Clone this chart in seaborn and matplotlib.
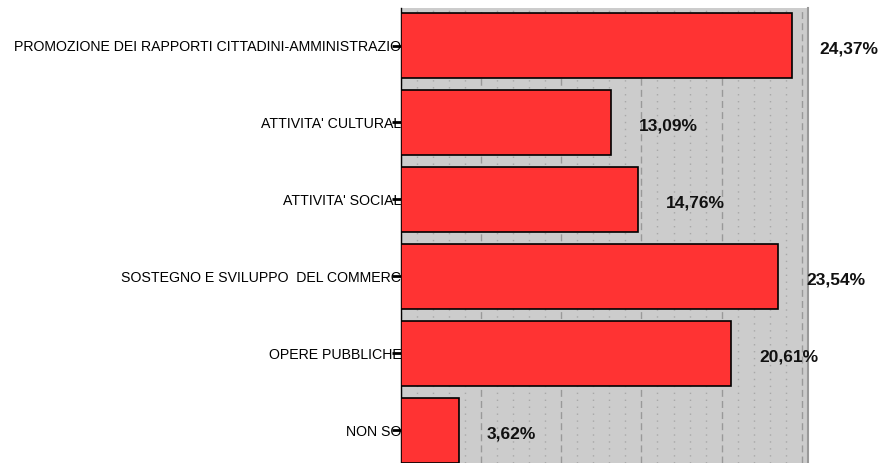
import matplotlib
matplotlib.use("Agg")
import matplotlib.pyplot as plt
from matplotlib.ticker import MultipleLocator
import seaborn as sns
import pandas as pd

categories = [
    "PROMOZIONE DEI RAPPORTI CITTADINI-AMMINISTRAZIO",
    "ATTIVITA' CULTURAL",
    "ATTIVITA' SOCIAL",
    "SOSTEGNO E SVILUPPO  DEL COMMERC",
    "OPERE PUBBLICHE",
    "NON SO",
]
values = [24.37, 13.09, 14.76, 23.54, 20.61, 3.62]

df = pd.DataFrame({"categoria": categories, "percentuale": values})

sns.set_theme(style="white")
plt.rcParams["font.family"] = ["Liberation Sans", "DejaVu Sans"]

fig = plt.figure(figsize=(8.83, 4.63), dpi=100)
W, H = 883, 463
ax = fig.add_axes([400.7 / W, 0.0, (807.5 - 400.7) / W, (463 - 8) / H])
ax.set_facecolor("#CCCCCC")

sns.barplot(data=df, x="percentuale", y="categoria", orient="h", ax=ax,
            color="#FF3333", saturation=1, width=0.845,
            edgecolor="black", linewidth=1.2, zorder=3)

ax.set_xlim(0, 25.35)
ax.set_ylim(5.429, -0.488)

ax.xaxis.set_major_locator(MultipleLocator(5))
ax.xaxis.set_minor_locator(MultipleLocator(1))
ax.grid(which="major", axis="x", color="#999999", linestyle=(0, (5, 3)), linewidth=1, zorder=1)
ax.grid(which="minor", axis="x", color="#a8a8a8", linestyle=(0, (1, 4)), linewidth=1, zorder=1)
ax.grid(which="major", axis="y", visible=False)
ax.set_axisbelow(True)

ax.tick_params(axis="x", which="both", bottom=False, labelbottom=False)
ax.tick_params(axis="y", which="major", left=True, length=6.5, width=2,
               color="black", pad=-7, labelsize=10.2, labelcolor="black")
ax.set_xlabel("")
ax.set_ylabel("")

for side in ("top", "bottom"):
    ax.spines[side].set_visible(False)
ax.spines["left"].set_color("black")
ax.spines["left"].set_linewidth(1)
ax.spines["right"].set_color("#999999")
ax.spines["right"].set_linewidth(1.5)

for i, v in enumerate(values):
    ax.annotate(f"{v:.2f}".replace(".", ",") + "%", xy=(v, i),
                xytext=(28, -3.5), textcoords="offset pixels",
                ha="left", va="center", fontsize=12.5, fontweight="bold",
                color="#111111", zorder=5)

fig.savefig("out.png", dpi=100, facecolor="white")
